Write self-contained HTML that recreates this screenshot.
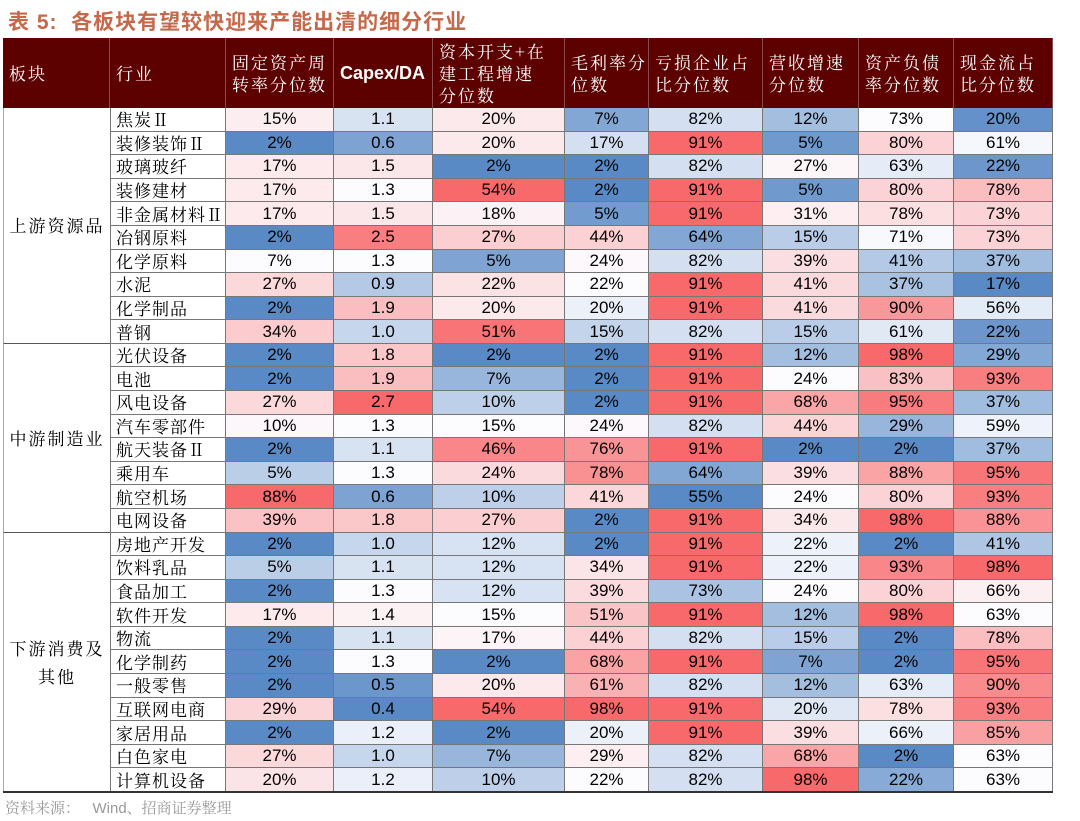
<!DOCTYPE html>
<html><head><meta charset="utf-8">
<style>
body{margin:0;width:1080px;height:821px;background:#fff;position:relative;overflow:hidden;font-family:"Liberation Sans","Noto Sans CJK SC",sans-serif}
.a{position:absolute;box-sizing:border-box}
.title{left:8px;top:6px;font-size:21px;font-weight:bold;color:#C4694B;font-family:"Liberation Sans","Noto Sans CJK SC",sans-serif;letter-spacing:1px}
.src{left:5px;top:797px;font-size:15px;color:#999;font-family:"Liberation Sans","Noto Serif CJK SC",sans-serif}
.hd{background:#5C0000;color:#fff;font-family:"Noto Serif CJK SC",serif;font-size:17px;line-height:22px;letter-spacing:2px;display:flex;align-items:center;padding-left:6px;border-right:1px solid #8a4a4a}
.cell{font-size:17px;text-align:center;color:#000;border-right:1px solid #777;border-bottom:1px solid #777;display:flex;align-items:center;justify-content:center;line-height:20px}
.ind{font-family:"Noto Serif CJK SC",serif;font-size:17px;letter-spacing:1px;white-space:nowrap;overflow:hidden;border-right:1px solid #777;border-bottom:1px solid #777;border-left:1px solid #777;display:flex;align-items:center;padding-left:5px;line-height:20px}
.grp{font-family:"Noto Serif CJK SC",serif;font-size:17px;letter-spacing:2px;border-bottom:1px solid #555;border-left:1px solid #aaa;display:flex;align-items:center;justify-content:center;text-align:center;line-height:28px}
</style></head><body>
<div class="a title">表 5:&nbsp; 各板块有望较快迎来产能出清的细分行业</div>
<div id="tbl"></div>
<div class="a src">资料来源：&nbsp;&nbsp; Wind、招商证券整理</div>
<script>
const headers=["板块","行业","固定资产周<br>转率分位数","Capex/DA","资本开支+在<br>建工程增速<br>分位数","毛利率分<br>位数","亏损企业占<br>比分位数","营收增速<br>分位数","资产负债<br>率分位数","现金流占<br>比分位数"];
const groups=[["上游资源品",0,10],["中游制造业",10,18],["下游消费及<br>其他",18,29]];
const industries=["焦炭Ⅱ","装修装饰Ⅱ","玻璃玻纤","装修建材","非金属材料Ⅱ","冶钢原料","化学原料","水泥","化学制品","普钢","光伏设备","电池","风电设备","汽车零部件","航天装备Ⅱ","乘用车","航空机场","电网设备","房地产开发","饮料乳品","食品加工","软件开发","物流","化学制药","一般零售","互联网电商","家居用品","白色家电","计算机设备"];
const turnover=[15,2,17,17,17,2,7,27,2,34,2,2,27,10,2,5,88,39,2,5,2,17,2,2,2,29,2,27,20];
const capexDA=[1.1,0.6,1.5,1.3,1.5,2.5,1.3,0.9,1.9,1.0,1.8,1.9,2.7,1.3,1.1,1.3,0.6,1.8,1.0,1.1,1.3,1.4,1.1,1.3,0.5,0.4,1.2,1.0,1.2];
const capexGrowth=[20,20,2,54,18,27,5,22,20,51,2,7,10,15,46,24,10,27,12,12,12,15,17,2,20,54,2,7,10];
const grossMargin=[7,17,2,2,5,44,24,22,20,15,2,2,2,24,76,78,41,2,2,34,39,51,44,68,61,98,20,29,22];
const lossShare=[82,91,82,91,91,64,82,91,91,82,91,91,91,82,91,64,55,91,91,91,73,91,82,91,82,91,91,82,82];
const revGrowth=[12,5,27,5,31,15,39,41,41,15,12,24,68,44,2,39,24,34,22,22,24,12,15,7,12,20,39,68,98];
const debtRatio=[73,80,63,80,78,71,41,37,90,61,98,83,95,29,2,88,80,98,2,93,80,98,2,2,63,78,66,2,22];
const cashShare=[20,61,22,78,73,73,37,17,56,22,29,93,37,59,37,95,93,88,41,98,66,63,78,95,90,93,85,63,63];
const cols=[turnover,capexDA,capexGrowth,grossMargin,lossShare,revGrowth,debtRatio,cashShare];
const colNames=["turnover","capex-da","capex-growth","gross-margin","loss-share","revenue-growth","debt-ratio","cash-share"];
const xs=[3,110,226,334,433,565,649,763,859,954,1053];
const y0=108,rh=(792-108)/industries.length,hy=38;
const T=document.getElementById('tbl');
function div(cls,x,y,w,h,html){const d=document.createElement('div');d.className='a '+cls;d.style.left=x+'px';d.style.top=y+'px';d.style.width=w+'px';d.style.height=h+'px';d.innerHTML=html;T.appendChild(d);return d;}
const BLUE=[90,138,198],WHITE=[252,252,255],RED=[248,105,107];
function mix(a,b,t){return 'rgb('+a.map((v,i)=>Math.round(v+(b[i]-v)*t)).join(',')+')';}
function color(v,arr){const s=[...arr].sort((a,b)=>a-b);const mn=s[0],mx=s[s.length-1],mid=s[Math.floor(s.length/2)];
 if(mid===mx&&v===mx)return mix(WHITE,RED,1);
 if(v<=mid)return mix(BLUE,WHITE,mid===mn?1:(v-mn)/(mid-mn));return mix(WHITE,RED,(v-mid)/(mx-mid));}
headers.forEach((h,i)=>{const d=div('hd',xs[i],hy,xs[i+1]-xs[i],y0-hy,'<span>'+h+'</span>');
 if(i===3){d.style.fontFamily='"Liberation Sans",sans-serif';d.style.fontWeight='bold';d.style.letterSpacing='0';d.style.fontSize='18px';}
 
 });
groups.forEach((g,i)=>{const d=div('grp',xs[0],y0+g[1]*rh,xs[1]-xs[0],(g[2]-g[1])*rh,g[0]);
 
 });
industries.forEach((n,r)=>{const y=y0+r*rh;
 const d=div('ind',xs[1],y,xs[2]-xs[1],rh,n);
 
 
 cols.forEach((arr,c)=>{const v=arr[r];const txt=c===1?v.toFixed(1):v+'%';
  const e=div('cell',xs[c+2],y,xs[c+3]-xs[c+2],rh,txt);e.style.background=color(v,arr);
  
  });
});
const b=div('',xs[0],791,xs[10]-xs[0],2,'');b.style.background='#333';


</script>
</body></html>
